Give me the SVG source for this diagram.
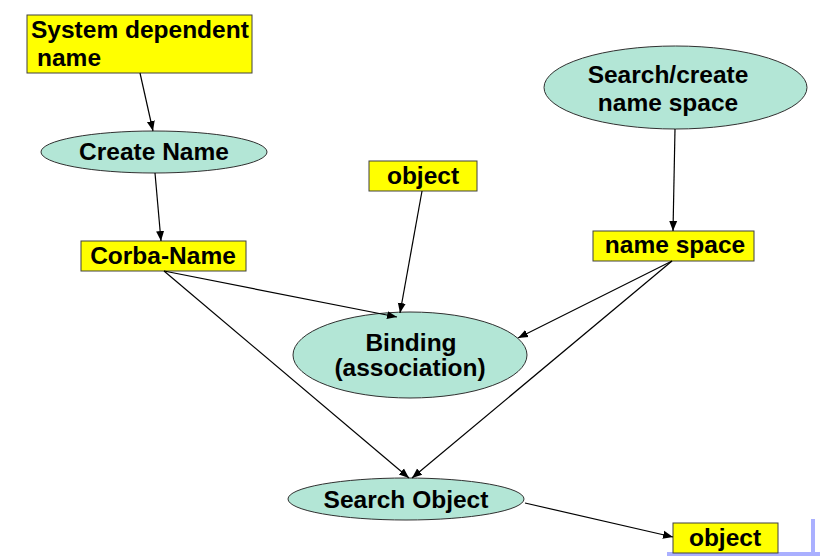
<svg xmlns="http://www.w3.org/2000/svg" width="820" height="557" viewBox="0 0 820 557">
<style>
.box{fill:#ffff00;stroke:#404040;stroke-width:1}
.ell{fill:#b3e6d6;stroke:#303030;stroke-width:1}
.t{font-family:"Liberation Sans",Arial,sans-serif;font-weight:bold;font-size:24.5px;fill:#000;text-anchor:middle}
.c{stroke:#000;stroke-width:1.2;fill:none;marker-end:url(#ah)}
.deco{stroke:#aab0ff;stroke-width:4;fill:none}
</style>
<defs>
<marker id="ah" viewBox="0 0 10 10" refX="10" refY="5" markerWidth="10" markerHeight="10" markerUnits="userSpaceOnUse" orient="auto">
<path d="M0,1 L10,5 L0,9 Z" fill="#000"/>
</marker>
</defs>
<g id="decoration">
<path class="deco" d="M667,554 L820,554"/>
<path class="deco" d="M813,519 L813,556"/>
</g>
<g id="system-dependent-name">
<rect class="box" x="27" y="15" width="225" height="58"/>
<text class="t" x="31" y="38" style="text-anchor:start">System dependent</text>
<text class="t" x="37" y="66" style="text-anchor:start">name</text>
</g>
<g id="create-name">
<ellipse class="ell" cx="154" cy="152" rx="113" ry="21"/>
<text class="t" x="154" y="160">Create Name</text>
</g>
<g id="corba-name">
<rect class="box" x="81" y="241" width="165" height="30"/>
<text class="t" x="163" y="264">Corba-Name</text>
</g>
<g id="object-top">
<rect class="box" x="369" y="161" width="108" height="30"/>
<text class="t" x="423" y="184">object</text>
</g>
<g id="search-create-name-space">
<ellipse class="ell" cx="675.5" cy="87.5" rx="131.5" ry="41.5"/>
<text class="t" x="668" y="83">Search/create</text>
<text class="t" x="668" y="111">name space</text>
</g>
<g id="name-space">
<rect class="box" x="593" y="231" width="161" height="30"/>
<text class="t" x="675" y="253">name space</text>
</g>
<g id="binding">
<ellipse class="ell" cx="410" cy="355" rx="117" ry="43"/>
<text class="t" x="411" y="351">Binding</text>
<text class="t" x="410" y="376">(association)</text>
</g>
<g id="search-object">
<ellipse class="ell" cx="406" cy="499" rx="118" ry="21"/>
<text class="t" x="406" y="508">Search Object</text>
</g>
<g id="object-bottom">
<rect class="box" x="673" y="523" width="105" height="30"/>
<text class="t" x="725" y="546">object</text>
</g>
<g id="connectors">
<line class="c" x1="140" y1="73" x2="153" y2="131"/>
<line class="c" x1="155" y1="173" x2="161" y2="241"/>
<line class="c" x1="675" y1="129" x2="673" y2="231"/>
<line class="c" x1="422" y1="191" x2="400" y2="313"/>
<line class="c" x1="164" y1="271" x2="397" y2="317"/>
<line class="c" x1="672" y1="261" x2="518" y2="338"/>
<line class="c" x1="164" y1="271" x2="409" y2="478"/>
<line class="c" x1="672" y1="261" x2="412" y2="478"/>
<line class="c" x1="525" y1="503" x2="673" y2="537"/>
</g>
</svg>
